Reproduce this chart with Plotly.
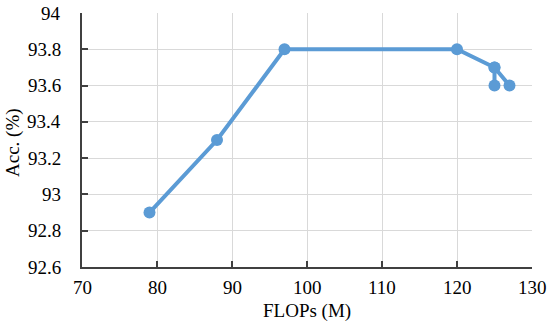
import plotly.graph_objects as go

flops = [79, 88, 97, 120, 125, 125, 125, 127]
acc = [92.9, 93.3, 93.8, 93.8, 93.7, 93.6, 93.7, 93.6]
x_ticks = [70, 80, 90, 100, 110, 120, 130]
x_labels = ["70", "80", "90", "100", "110", "120", "130"]
y_ticks = [92.6, 92.8, 93, 93.2, 93.4, 93.6, 93.8, 94]
y_labels = ["92.6", "92.8", "93", "93.2", "93.4", "93.6", "93.8", "94"]
x_title = "FLOPs (M)"
y_title = "Acc. (%)"

blue = "#5B9BD5"
font = dict(family="Liberation Serif", size=19, color="#000000")

fig = go.Figure()
fig.add_trace(go.Scatter(
    x=flops, y=acc, mode="lines+markers",
    line=dict(color=blue, width=4),
    marker=dict(color=blue, size=12),
    showlegend=False, hoverinfo="skip", cliponaxis=False))

fig.update_layout(
    width=550, height=334,
    margin=dict(l=82, r=18, t=13, b=67, autoexpand=False),
    paper_bgcolor="white", plot_bgcolor="white",
    font=font,
)

# tick labels as text placed through the axes' own scales
for v, t in zip(x_ticks, x_labels):
    fig.add_annotation(text=t, x=v, xref="x", y=0, yref="paper",
                       xanchor="center", yanchor="middle", yshift=-20,
                       showarrow=False, font=font)
for v, t in zip(y_ticks, y_labels):
    fig.add_annotation(text=t, x=0, xref="paper", y=v, yref="y",
                       xanchor="right", yanchor="middle", xshift=-19,
                       showarrow=False, font=font)
fig.add_annotation(text=x_title, x=0.5, xref="paper", y=0, yref="paper",
                   xanchor="center", yanchor="middle", yshift=-44,
                   showarrow=False, font=font)
fig.add_annotation(text=y_title, x=0, xref="paper", y=0.5, yref="paper",
                   xanchor="center", yanchor="middle", xshift=-69, yshift=-3,
                   textangle=-90, showarrow=False, font=font)

fig.update_xaxes(
    range=[70, 130], tickvals=x_ticks, showticklabels=False,
    showgrid=True, gridcolor="#d9d9d9", gridwidth=1,
    showline=True, linecolor="#404040", linewidth=2,
    ticks="inside", ticklen=6, tickcolor="#404040", tickwidth=2,
    automargin=False, zeroline=False,
)
fig.update_yaxes(
    range=[92.6, 94], tickvals=y_ticks, showticklabels=False,
    showgrid=True, gridcolor="#d9d9d9", gridwidth=1,
    showline=True, linecolor="#404040", linewidth=2,
    ticks="inside", ticklen=6, tickcolor="#404040", tickwidth=2,
    automargin=False, zeroline=False,
)

fig.write_html("out.html", config={"displayModeBar": False},
               post_script="document.body.style.margin='0';")
